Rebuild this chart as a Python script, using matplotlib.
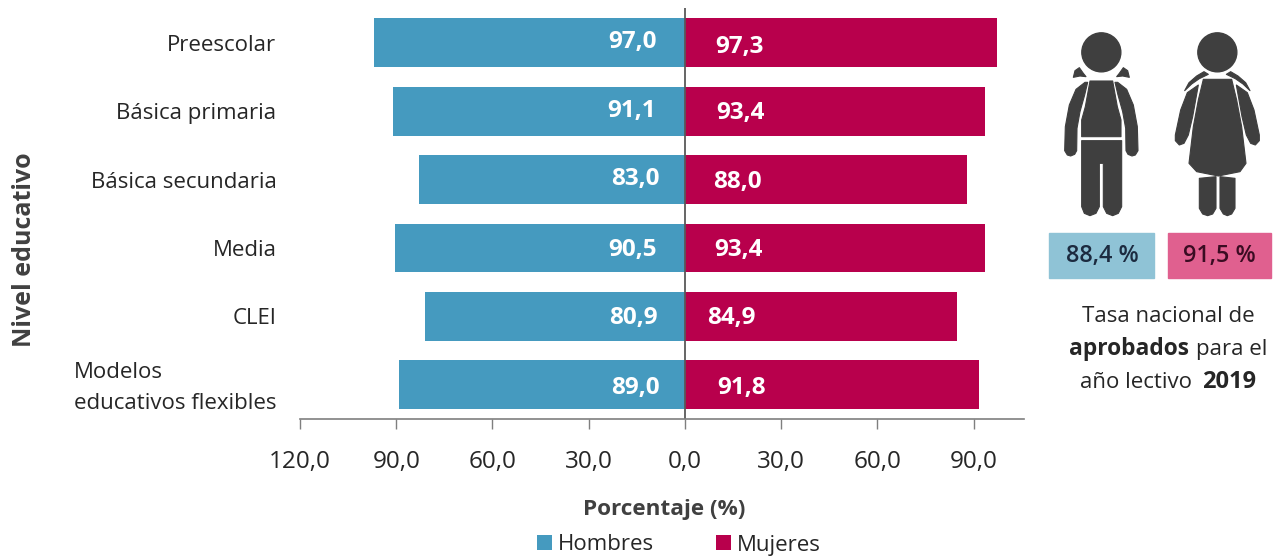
import matplotlib
matplotlib.use("Agg")
import matplotlib.pyplot as plt
from matplotlib.patches import Circle, Polygon, Rectangle
from matplotlib.transforms import ScaledTranslation

plt.rcParams['font.family'] = ['Open Sans', 'DejaVu Sans']

niveles = ["Preescolar", "Básica primaria", "Básica secundaria", "Media", "CLEI",
           "Modelos\neducativos flexibles"]
hombres = [97.0, 91.1, 83.0, 90.5, 80.9, 89.0]
mujeres = [97.3, 93.4, 88.0, 93.4, 84.9, 91.8]
xticks = [-120, -90, -60, -30, 0, 30, 60, 90]
xticklabels = ["120,0", "90,0", "60,0", "30,0", "0,0", "30,0", "60,0", "90,0"]
tasa_hombres = "88,4 %"
tasa_mujeres = "91,5 %"

AZUL = "#459abf"
ROJO = "#b8004c"
GRIS = "#404040"
ICONO = "#3f3f3f"

W, H = 1275, 556
fig = plt.figure(figsize=(W / 100, H / 100), dpi=100)
ax = fig.add_axes([300 / W, 1 - 419 / H, 724 / W, 411 / H])

# bars grow left for men, right for women
barsh = ax.barh(range(6), [-v for v in hombres], height=0.715, color=AZUL, label="Hombres")
barsm = ax.barh(range(6), mujeres, height=0.715, color=ROJO, label="Mujeres")
ax.set_xlim(-120, 105.7)
ax.set_ylim(5.5, -0.51)
ax.axvline(0, color="#595959", lw=1.3)

ax.set_xticks(xticks)
ax.set_xticklabels(xticklabels, fontsize=17.5, color="#262626")
ax.tick_params(axis="x", length=7, width=1, color="#7f7f7f", pad=15)
ax.set_yticks(range(6))
ax.set_yticklabels(niveles, fontsize=16, color="#262626", multialignment="left", linespacing=1.6)
ax.tick_params(axis="y", length=0, pad=17)
for s in ["top", "left", "right"]:
    ax.spines[s].set_visible(False)
ax.spines["bottom"].set_color("#7f7f7f")
ax.spines["bottom"].set_linewidth(1.2)

# two line label sits a bit higher in the original
ultima = ax.get_yticklabels()[5]
ultima.set_transform(ultima.get_transform() + ScaledTranslation(0, 3 / 72, fig.dpi_scale_trans))

# the value labels are not evenly placed in the original
off_h = [16.5, 16.5, 15.5, 16.5, 16.2, 15.5]
off_m = [17, 17.3, 16.5, 16.8, 14.5, 17.8]
dy_h = [-0.01, 0, -0.01, 0.03, 0.02, 0.04]
dy_m = [0.06, 0.03, 0.03, 0.03, 0.02, 0.04]
for i in range(6):
    ax.text(-off_h[i], i + dy_h[i], f"{hombres[i]:.1f}".replace(".", ","), color="white",
            fontsize=17.5, fontweight="bold", ha="center", va="center")
    ax.text(off_m[i], i + dy_m[i], f"{mujeres[i]:.1f}".replace(".", ","), color="white",
            fontsize=17.5, fontweight="bold", ha="center", va="center")

ax.legend(handles=[barsh, barsm], ncol=2, frameon=False, fontsize=16, labelcolor="#262626",
          handlelength=0.68, handleheight=0.68, handletextpad=0.27, columnspacing=2.8,
          loc="center", bbox_to_anchor=(679 / W, 1 - 545 / H), bbox_transform=fig.transFigure,
          borderpad=0, borderaxespad=0)

# overlay in pixel coordinates for the icons and side text
ov = fig.add_axes([0, 0, 1, 1], zorder=5)
ov.set_xlim(0, W)
ov.set_ylim(H, 0)
ov.axis("off")

ov.text(25, 250, "Nivel educativo", rotation=90, fontsize=18, fontweight="bold",
        color=GRIS, ha="center", va="center")
ov.text(664, 509, "Porcentaje (%)", fontsize=16.2, fontweight="bold", color=GRIS,
        ha="center", va="center")


def zp(pts):
    return [(1040 + x / 3, 20 + y / 3) for x, y in pts]


def shape(pts):
    ov.add_patch(Polygon(zp(pts), closed=True, facecolor=ICONO, edgecolor=ICONO,
                         lw=0.8, joinstyle="round"))


# boy
ov.add_patch(Circle((1040 + 184 / 3, 20 + 97 / 3), 19.5, color=ICONO))
shape([(150, 183), (218, 183), (232, 260), (243, 300), (243, 350), (125, 350), (125, 300), (136, 260)])
shape([(125, 362), (245, 362), (245, 560), (235, 580), (218, 587), (200, 580), (190, 560), (190, 430),
       (178, 430), (178, 560), (168, 580), (150, 587), (133, 580), (125, 560)])
shape([(135, 187), (108, 208), (88, 255), (76, 320), (74, 392), (82, 405), (92, 408), (104, 403),
       (110, 392), (111, 325), (120, 275), (134, 225), (143, 187)])
shape([(233, 187), (260, 208), (280, 255), (292, 320), (294, 392), (286, 405), (276, 408), (264, 403),
       (258, 392), (257, 325), (248, 275), (234, 225), (225, 187)])
shape([(100, 172), (105, 152), (118, 143), (130, 160), (138, 170), (120, 168)])
shape([(268, 172), (263, 152), (250, 143), (238, 160), (230, 170), (248, 168)])

# girl
ov.add_patch(Circle((1040 + 532 / 3, 20 + 97 / 3), 19.5, color=ICONO))
shape([(490, 178), (575, 178), (590, 240), (605, 320), (618, 430), (600, 455), (535, 468), (470, 455),
       (447, 430), (460, 320), (475, 240)])
shape([(478, 475), (528, 470), (528, 565), (518, 582), (503, 587), (488, 582), (478, 565)])
shape([(540, 470), (585, 475), (585, 565), (575, 582), (562, 587), (550, 582), (540, 565)])
shape([(442, 218), (422, 270), (406, 345), (406, 362), (418, 375), (432, 370), (445, 345), (458, 290),
       (475, 195)])
shape([(622, 218), (642, 270), (658, 345), (658, 362), (646, 375), (632, 370), (619, 345), (606, 290),
       (589, 195)])
shape([(434, 212), (447, 188), (470, 168), (492, 155), (505, 163), (478, 176), (455, 192)])
shape([(630, 212), (617, 188), (594, 168), (572, 155), (559, 163), (586, 176), (609, 192)])

# national rate boxes
ov.add_patch(Rectangle((1049, 233), 105, 45, color="#8fc3d6"))
ov.add_patch(Rectangle((1168, 233), 103, 45, color="#e0608f"))
ov.text(1102, 256, tasa_hombres, fontsize=16.8, fontweight="semibold", color="#1c2b40",
        ha="center", va="center")
ov.text(1219, 256, tasa_mujeres, fontsize=16.8, fontweight="semibold", color="#3a0c22",
        ha="center", va="center")

ov.text(1168, 316, "Tasa nacional de", fontsize=16, color="#262626", ha="center", va="center")
ov.text(1069, 349, "aprobados", fontsize=16.4, fontweight="bold", color="#262626", ha="left", va="center")
ov.text(1267, 349, "para el", fontsize=16, color="#262626", ha="right", va="center")
ov.text(1080, 382, "año lectivo", fontsize=16, color="#262626", ha="left", va="center")
ov.text(1256, 382, "2019", fontsize=17, fontweight="bold", color="#262626", ha="right", va="center")

fig.savefig("out.png", dpi=100)
